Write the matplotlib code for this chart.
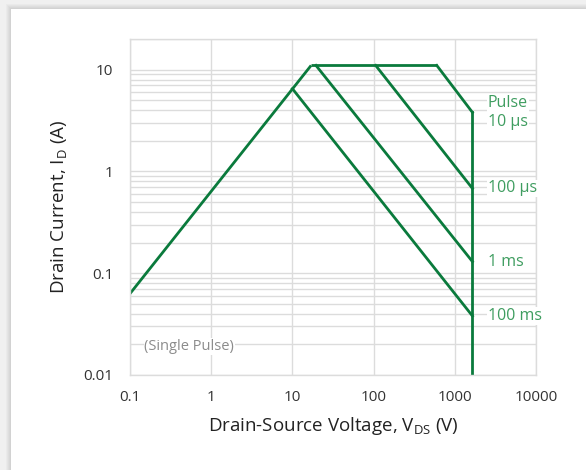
import numpy as np
import matplotlib
matplotlib.use("Agg")
import matplotlib.pyplot as plt
from matplotlib.patches import Rectangle

#=========================================================================================
# safe operating area
rise_v = [0.1, 17]
rise_i = [0.063, 11]

top_v = [17, 600]
top_i = [11, 11]

pulse_names = ['Pulse\n10 µs', '100 µs', '1 ms', '100 ms']
pulse_v0 = [600, 106, 19.5, 10]
pulse_i0 = [11, 11, 11, 6.5]
pulse_i1 = [3.8, 0.68, 0.13, 0.038]

v_max = 1650

x_ticks = [0.1, 1, 10, 100, 1000, 10000]
x_ticklabels = ['0.1', '1', '10', '100', '1000', '10000']
y_ticks = [0.01, 0.1, 1, 10]
y_ticklabels = ['0.01', '0.1', '1', '10']

line_color = '#0a7a3c'
label_color = '#3f9d60'
grid_color = '#dcdcdc'

plt.rcParams['font.family'] = ['Open Sans', 'DejaVu Sans']
plt.rcParams['mathtext.default'] = 'regular'

#=========================================================================================
fig = plt.figure(figsize=(5.86, 4.70), dpi=100)
fig.patch.set_facecolor('white')

# card shadow along the top and left edges
for k, c in enumerate(['#d2d2d2', '#d8d8d8', '#dedede', '#e4e4e4', '#eaeaea', '#f0f0f0']):
    fig.patches.append(Rectangle((0, 1 - (9 - k) / 470), 1, (9 - k) / 470, transform=fig.transFigure,
                                 facecolor=c, edgecolor='none', zorder=-10 + k))
    fig.patches.append(Rectangle((0, 0), (11 - k) / 586, 1, transform=fig.transFigure,
                                 facecolor=c, edgecolor='none', zorder=-10 + k))

ax = fig.add_axes([130 / 586, 1 - 375 / 470, 406 / 586, 336 / 470])
ax.set_xscale('log')
ax.set_yscale('log')
ax.set_xlim(0.1, 10000)
ax.set_ylim(0.01, 20)

ax.yaxis.grid(True, which='both', color=grid_color, linewidth=1.0)
ax.xaxis.grid(True, which='major', color=grid_color, linewidth=1.0)
ax.xaxis.grid(False, which='minor')
ax.set_axisbelow(True)
for sp in ax.spines.values():
    sp.set_color(grid_color)
    sp.set_linewidth(1.0)

ax.set_xticks(x_ticks)
ax.set_xticklabels(x_ticklabels)
ax.set_yticks(y_ticks)
ax.set_yticklabels(y_ticklabels)
ax.tick_params(which='both', length=0, labelsize=11, colors='#333333')
ax.tick_params(axis='x', pad=11)
ax.tick_params(axis='y', pad=12)

#----------------------------------------------
lw = 2.0
ax.plot(rise_v, rise_i, color=line_color, linewidth=lw, solid_capstyle='butt')
ax.plot(top_v, top_i, color=line_color, linewidth=lw, solid_capstyle='butt')
ax.plot([v_max, v_max], [pulse_i1[0], 0.01], color=line_color, linewidth=lw)

for name, v0, i0, i1 in zip(pulse_names, pulse_v0, pulse_i0, pulse_i1):
    ax.plot([v0, v_max], [i0, i1], color=line_color, linewidth=lw)
    ax.text(2550, i1, name, color=label_color, fontsize=11.5, ha='left', va='center',
            linespacing=1.25,
            bbox=dict(facecolor='white', edgecolor='none', pad=0.5))

ax.text(0.15, 0.019, '(Single Pulse)', color='#8c8c8c', fontsize=10.5, ha='left', va='center',
        bbox=dict(facecolor='white', edgecolor='none', pad=0.5))

ax.set_xlabel(r'Drain-Source Voltage, V$_{DS}$ (V)', fontsize=13.5, color='#222222', labelpad=7)
ax.set_ylabel(r'Drain Current, I$_{D}$ (A)', fontsize=13.5, color='#222222', labelpad=10)

fig.savefig('out.png', dpi=100)
